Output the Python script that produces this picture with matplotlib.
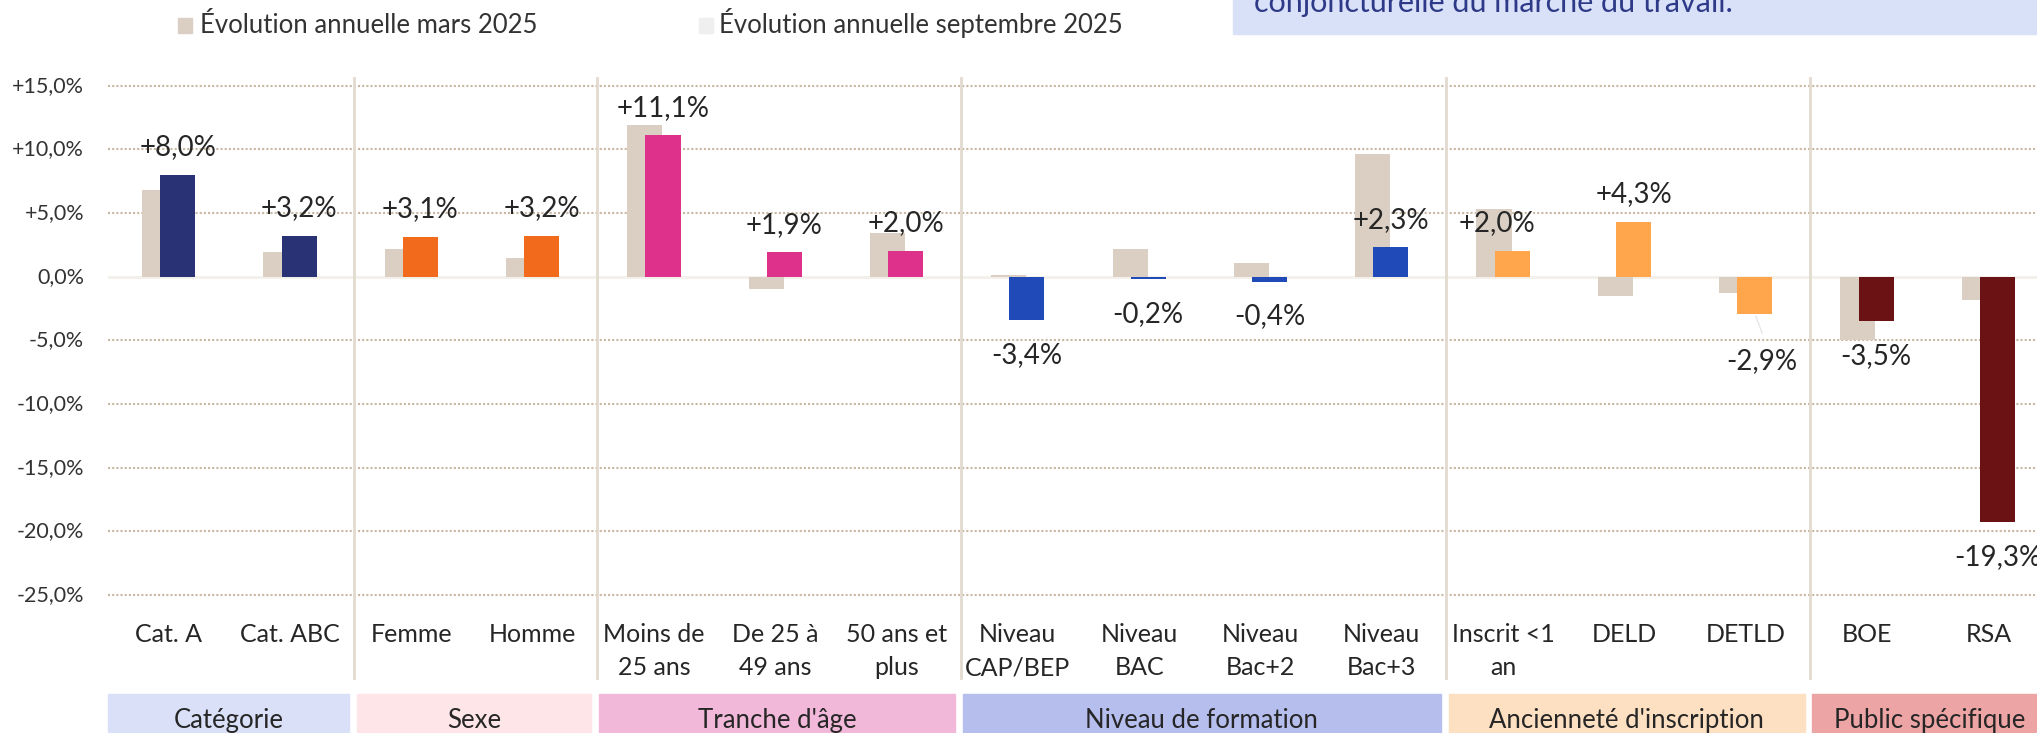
import matplotlib
matplotlib.use("Agg")
import matplotlib.pyplot as plt
from matplotlib.transforms import blended_transform_factory
from matplotlib.patches import Rectangle
import numpy as np

plt.rcParams['font.family'] = ['Lato', 'DejaVu Sans']

# ---------------- data ----------------
categories = ["Cat. A", "Cat. ABC", "Femme", "Homme", "Moins de\n25 ans", "De 25 à\n49 ans",
              "50 ans et\nplus", "Niveau\nCAP/BEP", "Niveau\nBAC", "Niveau\nBac+2", "Niveau\nBac+3",
              "Inscrit <1\nan", "DELD", "DETLD", "BOE", "RSA"]
mars_2025 = [6.8, 1.9, 2.2, 1.5, 11.9, -1.0, 3.4, 0.1, 2.2, 1.1, 9.6, 5.3, -1.5, -1.3, -5.0, -1.8]
sept_2025 = [8.0, 3.2, 3.1, 3.2, 11.1, 1.9, 2.0, -3.4, -0.2, -0.4, 2.3, 2.0, 4.3, -2.9, -3.5, -19.3]
groups = ["Catégorie", "Sexe", "Tranche d'âge", "Niveau de formation",
          "Ancienneté d'inscription", "Public spécifique"]
group_sizes = [2, 2, 3, 4, 3, 2]
group_bar_colors = ["#283275", "#F26A1B", "#DE318B", "#1F4AB7", "#FFA64D", "#6B1314"]
group_band_colors = ["#D9E0F7", "#FEE5E7", "#F1B8D9", "#B6BEEE", "#FDDFC1", "#EDA4A5"]
yticks = [15, 10, 5, 0, -5, -10, -15, -20, -25]
legend_labels = ["Évolution annuelle mars 2025", "Évolution annuelle septembre 2025"]
note_text = "conjoncturelle du marché du travail."

# ---------------- figure ----------------
W, H = 2037, 733
fig = plt.figure(figsize=(W / 100, H / 100), dpi=100)
fig.patch.set_facecolor("white")


def fx(px):
    return px / W


def fy(px):
    return 1 - px / H


ax = fig.add_axes([fx(108), fy(595), fx(2049 - 108), (595 - 85.7) / H])
ax.set_xlim(0, len(categories))
ax.set_ylim(-25, 15)
ax.set_axis_off()

t_xd_fy = blended_transform_factory(ax.transData, fig.transFigure)
t_fx_yd = blended_transform_factory(fig.transFigure, ax.transData)

# gridlines
for t in yticks:
    if t == 0:
        ax.axhline(0, color="#F3EFEA", lw=2, zorder=1)
    else:
        ax.axhline(t, color="#C8B7A2", lw=1.5, ls=(0, (1, 1)), zorder=1, clip_on=False)
    lab = ("+" if t > 0 else "") + f"{t:.1f}".replace(".", ",") + "%"
    fig.text(fx(84), t, lab, transform=t_fx_yd, ha="right", va="center",
             fontsize=15.5, color="#333333")

# bars
x = np.arange(len(categories)) + 0.5
cat_colors = []
for c, n in zip(group_bar_colors, group_sizes):
    cat_colors += [c] * n
bw = 0.289
ax.bar(x - 0.075, mars_2025, width=bw, color="#DACFC2", zorder=2)
ax.bar(x + 0.075, sept_2025, width=bw, color=cat_colors, zorder=3)

# data labels
for i, v in enumerate(sept_2025):
    txt = f"{v:+.1f}%".replace(".", ",")
    dx, dy = 0, (20 if v >= 0 else -25)
    if categories[i].startswith("Inscrit"):
        dx = -11
    if categories[i] == "DETLD":
        dx, dy = 5, -34
        ax.annotate("", xy=(x[i] + 0.075, v), xytext=(6, -16), textcoords="offset points",
                    arrowprops=dict(arrowstyle="-", color="#E6E6E6", lw=1))
    ax.annotate(txt, xy=(x[i] + 0.075, v), xytext=(dx, dy), textcoords="offset points",
                ha="center", va="center", fontsize=20, color="#262626", zorder=5,
                annotation_clip=False)

# separators and bands
bounds = np.concatenate([[0], np.cumsum(group_sizes)])
for b in bounds[1:-1]:
    ax.plot([b + 0.03, b + 0.03], [fy(78), fy(678)], transform=t_xd_fy,
            color="#E2DACE", lw=2, clip_on=False, zorder=1)

for gi, g in enumerate(groups):
    s, e = bounds[gi], bounds[gi + 1]
    x0 = s + (0.05 if gi > 0 else 0)
    x1 = e - 0.015
    rect = Rectangle((x0, fy(745)), x1 - x0, fy(694) - fy(745), transform=t_xd_fy,
                     color=group_band_colors[gi], clip_on=False, zorder=1)
    ax.add_patch(rect)
    ax.text((x0 + x1) / 2, fy(728), g, transform=t_xd_fy, ha="center", va="baseline",
            fontsize=18.5, color="#262626", clip_on=False)

# category labels (one text per line)
for i, c in enumerate(categories):
    for k, line in enumerate(c.split("\n")):
        ax.text(x[i], fy(641.5 + 33.5 * k), line, transform=t_xd_fy, ha="center",
                va="baseline", fontsize=18, color="#262626", clip_on=False)

# legend
leg_pos = [(177.5, 200), (698.5, 719)]
leg_cols = ["#DACFC2", "#EFEFEF"]
for (sq, tx), col, lab in zip(leg_pos, leg_cols, legend_labels):
    fig.add_artist(Rectangle((fx(sq), fy(33)), 14 / W, 15 / H, transform=fig.transFigure,
                             color=col))
    fig.text(fx(tx), fy(33.3), lab, ha="left", va="baseline", fontsize=18.5, color="#333333")

# top-right note box
fig.add_artist(Rectangle((fx(1233), fy(34.3)), fx(W - 1233), 34.3 / H,
                         transform=fig.transFigure, color="#D9E1F8"))
fig.text(fx(1254), fy(12), note_text, ha="left", va="baseline", fontsize=22,
         color="#2E3A87")

fig.savefig("out.png", dpi=100)
